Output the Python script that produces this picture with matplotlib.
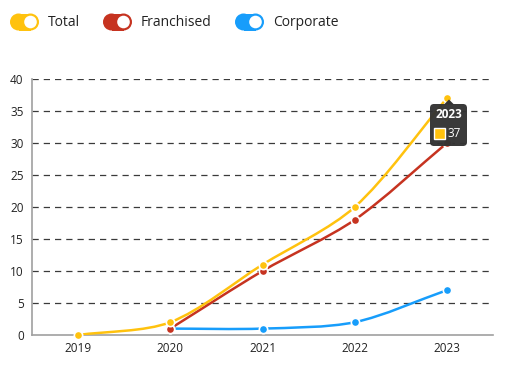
import numpy as np
import matplotlib
matplotlib.use("Agg")
import matplotlib.pyplot as plt
from matplotlib.path import Path
from matplotlib.patches import PathPatch, FancyBboxPatch, Circle, Rectangle, Polygon

plt.rcParams['font.family'] = ['Open Sans', 'DejaVu Sans']

years = ["2019", "2020", "2021", "2022", "2023"]
total = [0, 2, 11, 20, 37]
franchised = [None, 1, 10, 18, 30]
corporate = [None, 1, 1, 2, 7]
series_names = ["Total", "Franchised", "Corporate"]
colors = ["#FFC20E", "#C63320", "#179DFB"]
y_ticks = [0, 5, 10, 15, 20, 25, 30, 35, 40]
tooltip_year = "2023"
tooltip_value = 37

W, H = 512, 366
fig = plt.figure(figsize=(W / 100, H / 100), dpi=100)
ax = fig.add_axes([32 / W, 1 - 335 / H, (493 - 32) / W, (335 - 79) / H])
ax.set_xlim(-0.5, 4.5)
ax.set_ylim(0, 40)


def spline_path(xs, ys, tension=0.3):
    # Chart.js-style spline, control points computed in display space
    pts = ax.transData.transform(np.column_stack([xs, ys]).astype(float))
    n = len(pts)
    cp_prev = np.zeros_like(pts)
    cp_next = np.zeros_like(pts)
    for i in range(n):
        cur = pts[i]
        prev = pts[i - 1] if i > 0 else cur
        nxt = pts[i + 1] if i < n - 1 else cur
        d01 = np.hypot(*(cur - prev))
        d12 = np.hypot(*(nxt - cur))
        tot = d01 + d12
        s01 = d01 / tot if tot else 0
        s12 = d12 / tot if tot else 0
        fa, fb = tension * s01, tension * s12
        cp_prev[i] = cur - fa * (nxt - prev)
        cp_next[i] = cur + fb * (nxt - prev)
    inv = ax.transData.inverted()
    verts = [pts[0]]
    codes = [Path.MOVETO]
    for i in range(n - 1):
        verts += [cp_next[i], cp_prev[i + 1], pts[i + 1]]
        codes += [Path.CURVE4] * 3
    return Path(inv.transform(np.array(verts)), codes)


all_series = [total, franchised, corporate]
order = [2, 1, 0]
for k in order:
    vals = all_series[k]
    xs = [i for i, v in enumerate(vals) if v is not None]
    ys = [v for v in vals if v is not None]
    ax.add_patch(PathPatch(spline_path(xs, ys), facecolor='none',
                           edgecolor=colors[k], lw=1.8, zorder=3 + (2 - k),
                           capstyle='round'))
    ax.scatter(xs, ys, s=36, color=colors[k], edgecolor='white',
               linewidth=1.2, zorder=6 + (2 - k), clip_on=False)

ax.set_xticks(range(len(years)))
ax.set_xticklabels(years)
ax.set_yticks(y_ticks)
ax.tick_params(length=0, labelsize=8.5, colors='#222222', pad=6)
ax.tick_params(axis='x', pad=5)
for y in y_ticks[1:]:
    ax.axhline(y, color='#3a3a3a', lw=0.9, ls=(0, (5, 4)), zorder=1)
for s in ['top', 'right']:
    ax.spines[s].set_visible(False)
for s in ['left', 'bottom']:
    ax.spines[s].set_color('#a0a0a0')
    ax.spines[s].set_linewidth(1.2)

# overlay in pixel coords
ov = fig.add_axes([0, 0, 1, 1], zorder=20)
ov.set_xlim(0, W)
ov.set_ylim(H, 0)
ov.axis('off')

# legend toggles
leg_x = [10, 103, 235]
for name, c, x0 in zip(series_names, colors, leg_x):
    r = 8.5
    ov.add_patch(Circle((x0 + r, 22), r, facecolor=c, edgecolor='none'))
    ov.add_patch(Rectangle((x0 + r, 22 - r), 12, 2 * r, facecolor=c,
                           edgecolor='none'))
    ov.add_patch(Circle((x0 + r + 12, 22), r, facecolor=c, edgecolor='none'))
    ov.add_patch(Circle((x0 + r + 12, 22), 6.3, facecolor='white',
                        edgecolor='none'))
    ov.text(x0 + 38, 22, name, fontsize=10, va='center', ha='left',
            color='#222222')

# tooltip
bx0, by0, bx1, by1 = 430, 104, 467, 146
ov.add_patch(FancyBboxPatch((bx0, by0), bx1 - bx0, by1 - by0,
                            boxstyle="round,pad=0,rounding_size=4",
                            facecolor='#333333', edgecolor='none', alpha=0.97))
ov.add_patch(Polygon([(444, by0 + 0.5), (449, 99.5), (454, by0 + 0.5)],
                     closed=True, facecolor='#333333', edgecolor='none'))
ov.text(448.5, 115, tooltip_year, color='white', fontsize=8.5,
        fontweight='bold', ha='center', va='center')
ov.add_patch(Rectangle((434, 128), 11, 11, facecolor=colors[0],
                       edgecolor='white', lw=1))
ov.text(447, 133.5, str(tooltip_value), color='white', fontsize=8.5,
        ha='left', va='center')

fig.savefig("out.png", dpi=100)
